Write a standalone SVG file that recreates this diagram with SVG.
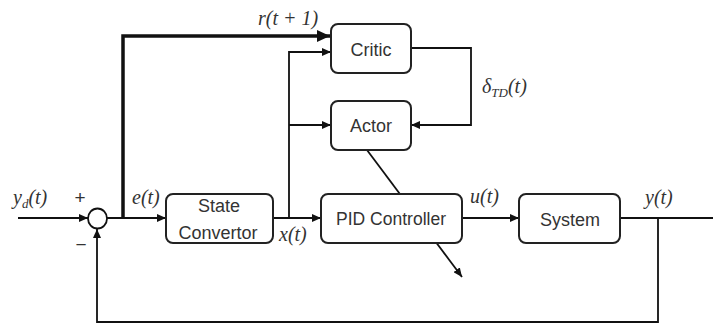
<svg xmlns="http://www.w3.org/2000/svg" width="713" height="324" viewBox="0 0 713 324">
  <style>
    .box { fill: #ffffff; stroke: #222222; stroke-width: 2; }
    .lbl { font-family: "Liberation Sans", Arial, sans-serif; font-size: 18px; fill: #333333; text-anchor: middle; }
    .math { font-family: "Liberation Serif", "Times New Roman", serif; font-style: italic; font-size: 20px; fill: #333333; }
    .sub { font-size: 13px; }
    .sign { font-family: "Liberation Sans", Arial, sans-serif; font-size: 19px; fill: #333333; text-anchor: middle; }
    .wire { fill: none; stroke: #111111; stroke-width: 1.8; }
    .thick { fill: none; stroke: #111111; stroke-width: 3.5; }
  </style>
  <defs>
    <marker id="arr" markerUnits="userSpaceOnUse" markerWidth="10" markerHeight="8" refX="9" refY="4" orient="auto">
      <path d="M0,0 L9,4 L0,8 Z" fill="#111111"/>
    </marker>
    <marker id="arrBig" markerUnits="userSpaceOnUse" markerWidth="14" markerHeight="12" refX="13" refY="6" orient="auto">
      <path d="M0,0 L13,6 L0,12 Z" fill="#111111"/>
    </marker>
  </defs>

  <rect width="713" height="324" fill="#ffffff"/>

  <g id="connectors">
    <!-- reference input into the summing junction -->
    <line class="wire" x1="18" y1="218" x2="88" y2="218" marker-end="url(#arr)"/>
    <!-- error e(t) into state convertor -->
    <line class="wire" x1="107" y1="218" x2="166" y2="218" marker-end="url(#arr)"/>
    <!-- r(t+1) thick branch to critic -->
    <polyline class="thick" points="123,218 123,36 330,36" marker-end="url(#arrBig)"/>
    <!-- state x(t) into PID controller -->
    <line class="wire" x1="273" y1="218" x2="321" y2="218" marker-end="url(#arr)"/>
    <!-- state x(t) branches to critic and actor -->
    <polyline class="wire" points="289,218 289,52 331,52" marker-end="url(#arr)"/>
    <line class="wire" x1="289" y1="125" x2="331" y2="125" marker-end="url(#arr)"/>
    <!-- TD error from critic to actor -->
    <polyline class="wire" points="411,48 471,48 471,125 411,125" marker-end="url(#arr)"/>
    <!-- actor tunes the PID gains (diagonal arrow passing under the controller box) -->
    <line class="wire" x1="367" y1="150" x2="462" y2="277" marker-end="url(#arr)"/>
    <!-- control u(t) into the system -->
    <line class="wire" x1="462" y1="218" x2="519" y2="218" marker-end="url(#arr)"/>
    <!-- output y(t) -->
    <line class="wire" x1="620" y1="218" x2="713" y2="218"/>
    <!-- feedback path -->
    <polyline class="wire" points="658,218 658,322 97,322 97,229" marker-end="url(#arr)"/>
  </g>

  <g id="sum">
    <ellipse cx="97.5" cy="218.5" rx="9.5" ry="10" fill="#ffffff" stroke="#111111" stroke-width="1.8"/>
    <text class="sign" x="80" y="204">+</text>
    <text class="sign" x="81" y="251">−</text>
  </g>

  <g id="critic">
    <rect class="box" x="331" y="24" width="80" height="49" rx="7"/>
    <text class="lbl" x="371" y="56">Critic</text>
  </g>

  <g id="actor">
    <rect class="box" x="331" y="101" width="80" height="49" rx="7"/>
    <text class="lbl" x="371" y="132">Actor</text>
  </g>

  <g id="state-convertor">
    <rect class="box" x="166" y="194" width="107" height="49" rx="7"/>
    <text class="lbl" x="219" y="212">State</text>
    <text class="lbl" x="218" y="239">Convertor</text>
  </g>

  <g id="pid-controller">
    <rect class="box" x="321" y="194" width="141" height="49" rx="7"/>
    <text class="lbl" x="391" y="225" textLength="110" lengthAdjust="spacingAndGlyphs">PID Controller</text>
  </g>

  <g id="system">
    <rect class="box" x="519" y="194" width="101" height="49" rx="7"/>
    <text class="lbl" x="570" y="226">System</text>
  </g>

  <g id="signal-labels">
    <text class="math" x="258" y="25">r(t + 1)</text>
    <text class="math" x="482" y="93">δ<tspan class="sub" dy="4">TD</tspan><tspan dy="-4">(t)</tspan></text>
    <text class="math" x="13" y="204">y<tspan class="sub" dy="4">d</tspan><tspan dy="-4">(t)</tspan></text>
    <text class="math" x="132" y="204">e(t)</text>
    <text class="math" x="279" y="241">x(t)</text>
    <text class="math" x="470" y="203">u(t)</text>
    <text class="math" x="645" y="204">y(t)</text>
  </g>
</svg>
